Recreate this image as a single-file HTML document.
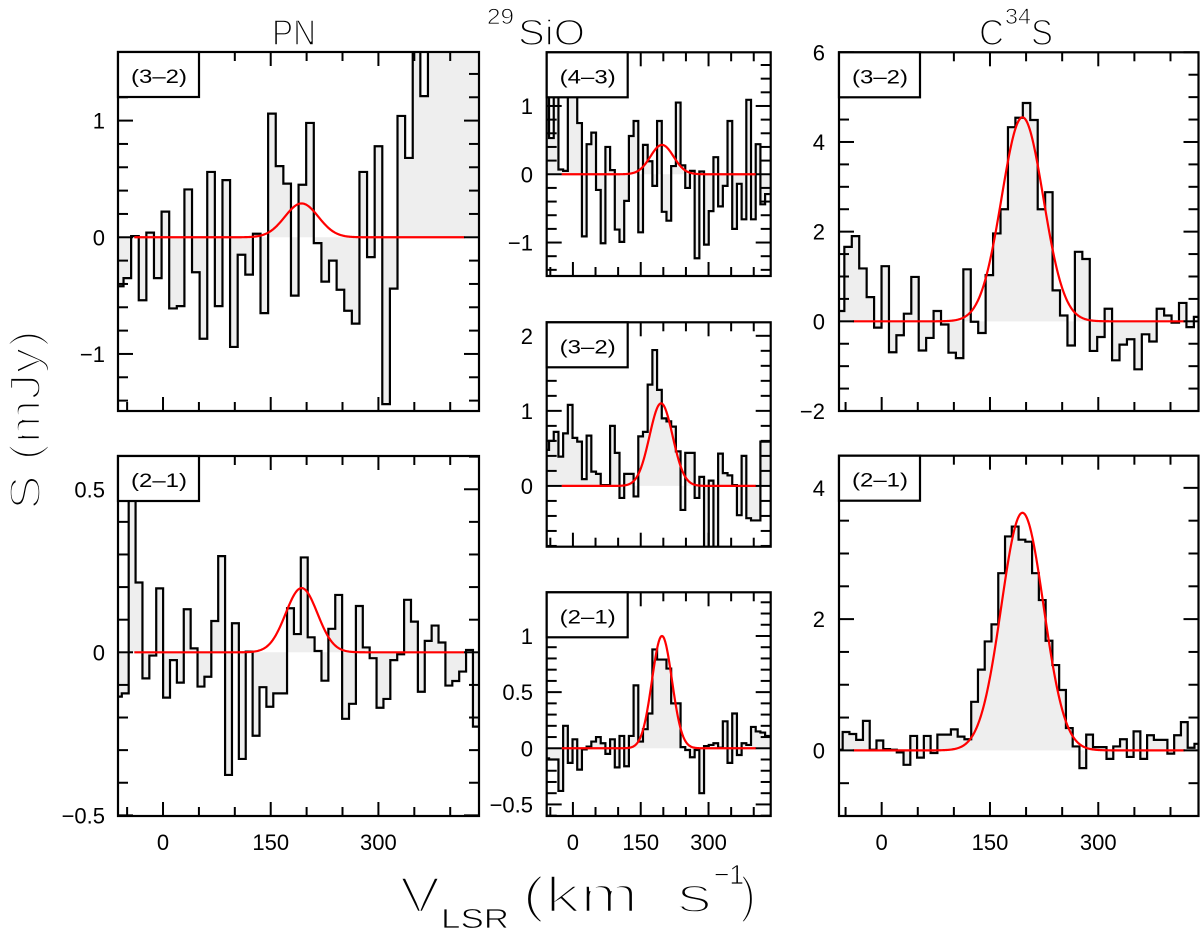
<!DOCTYPE html>
<html><head><meta charset="utf-8"><style>
html,body{margin:0;padding:0;background:#fff;}
svg{display:block;font-family:"Liberation Sans",sans-serif;}
.thin{stroke:#fff;stroke-width:1.6px;}
.thin text[font-size="28"],.thin text[font-size="22"]{stroke-width:0.8px;}
</style></head><body>
<svg id="fig" width="1200" height="939" viewBox="0 0 1200 939" xmlns="http://www.w3.org/2000/svg">
<rect x="0" y="0" width="1200" height="939" fill="#fff"/>
<g class="thin">
<text x="272" y="45" font-size="36" textLength="44" lengthAdjust="spacingAndGlyphs">PN</text>
<text x="487" y="24" font-size="22" textLength="27" lengthAdjust="spacingAndGlyphs">29</text>
<text x="518" y="45" font-size="36" textLength="67" lengthAdjust="spacingAndGlyphs">SiO</text>
<text x="979" y="45" font-size="36" textLength="25" lengthAdjust="spacingAndGlyphs">C</text>
<text x="1005" y="24" font-size="22" textLength="26" lengthAdjust="spacingAndGlyphs">34</text>
<text x="1031" y="45" font-size="36" textLength="22" lengthAdjust="spacingAndGlyphs">S</text>
<text transform="translate(40,510) rotate(-90)" font-size="44" textLength="180" lengthAdjust="spacingAndGlyphs" style="stroke-width:2.5px">S (mJy)</text>
<g font-size="50" style="stroke-width:2.5px">
<text x="400" y="912" textLength="40" lengthAdjust="spacingAndGlyphs">V</text>
<text x="441" y="928" font-size="28" textLength="68" lengthAdjust="spacingAndGlyphs">LSR</text>
<text x="522" y="912" textLength="190" lengthAdjust="spacingAndGlyphs" xml:space="preserve">(km  s</text>
<text x="714" y="884" font-size="28" textLength="30" lengthAdjust="spacingAndGlyphs">−1</text>
<text x="740" y="912" textLength="16" lengthAdjust="spacingAndGlyphs">)</text>
</g>
</g>
</svg>
<script>
// ---- data: flux density per channel (mJy) ----
const pn32Values=[-0.42,-0.35,0.01,-0.54,0.04,-0.35,0.22,-0.61,-0.59,0.41,-0.30,-0.87,0.56,-0.59,0.49,-0.94,-0.15,-0.32,0.03,-0.65,1.06,0.61,0.46,-0.50,0.45,0.98,-0.05,-0.38,-0.20,-0.45,-0.63,-0.74,0.56,-0.17,0.78,-1.43,-0.44,1.04,0.68,1.9,1.21,1.9,2.0,1.8,2.1,1.9,2.0,1.8];
const pn32Start=-65.6; const pn32Step=10.6;
const pn21Values=[-0.136,-0.126,0.65,0.214,-0.080,-0.010,0.196,-0.139,-0.024,-0.093,0.132,0.012,-0.105,-0.075,0.096,0.295,-0.376,0.089,-0.327,0.002,-0.256,-0.107,-0.167,-0.126,-0.126,0.135,0.056,0.291,0.046,0.004,-0.087,0.072,0.176,-0.204,-0.158,0.142,0.015,-0.018,-0.170,-0.143,-0.024,-0.006,0.161,0.094,-0.121,0.035,0.082,0.030,-0.102,-0.088,-0.059,0.007,-0.228];
const pn21Start=-67; const pn21Step=9.59;
const sio43Values=[1.2,0.53,1.2,0.07,0.05,1.15,1.15,0.75,-0.91,0.44,0.61,-0.23,-1.01,0.40,0.06,-0.81,-0.99,-0.39,0.56,0.78,-0.85,0.43,0.19,-0.17,0.78,-0.55,-0.68,0.12,1.05,0.13,-0.2,0.05,-1.23,0.04,-1.03,-0.54,0.25,-0.47,-0.17,0.78,-0.8,-0.14,-0.66,1.09,-0.66,0.44,-0.44,-0.29];
const sio43Start=-63.2; const sio43Step=10.39;
const sio32Values=[0.48,0.60,0.72,0.39,0.70,1.08,0.64,0.59,0.09,0.67,0.19,0.16,0.01,0.01,0.80,0.44,-0.16,0.16,0.16,-0.14,0.66,0.72,1.35,1.81,1.28,0.90,0.86,0.79,0.46,-0.32,0.44,0.44,-0.16,0.12,-0.85,0.07,-0.85,0.43,0.17,0.14,0.01,-0.39,0.40,-0.43,-0.46,-0.46,0.59,0.59];
const sio32Start=-63.2; const sio32Step=10.39;
const sio21Values=[-0.09,-0.1,-0.1,-0.38,0.20,-0.13,0.08,-0.19,-0.01,0.015,0.06,0.10,0.045,-0.05,0.08,-0.17,0.11,-0.16,0.11,0.56,0.06,0.17,0.31,0.88,0.79,0.79,0.71,0.40,0.40,0.01,-0.015,-0.08,-0.015,-0.40,0.02,0.03,0.045,0.005,0.24,-0.13,0.31,-0.06,0.045,0.03,0.19,0.15,0.14,0.11];
const sio21Start=-63.2; const sio21Step=10.39;
const c32Values=[0.23,1.66,1.90,1.18,0.54,-0.14,1.23,-0.69,-0.31,0.17,0.99,-0.65,-0.37,0.23,-0.07,-0.70,-0.82,1.16,-0.01,-0.26,1.03,1.96,2.5,4.33,4.54,4.87,4.49,2.5,2.88,0.69,0.13,-0.54,1.55,1.39,-0.66,-0.35,0.28,-0.87,-0.52,-0.40,-1.07,-0.29,-0.45,0.28,0.13,-0.03,0.41,-0.13,0.1];
const c32Start=-62; const c32Step=10.3;
const c21Values=[0.01,0.28,0.25,0.16,0.45,0.01,0.15,0.02,0.01,-0.03,-0.22,0.22,-0.11,0.22,-0.04,0.24,0.24,0.32,0.21,0.17,0.74,1.23,1.66,1.92,2.70,3.26,3.41,3.21,3.18,2.70,2.29,1.67,1.30,0.92,0.34,0.06,-0.27,0.24,0.05,0.05,-0.13,0.06,0.17,-0.10,0.29,-0.13,0.23,0.16,0.16,-0.05,0.23,0.43,0.04,0.10];
const c21Start=-63.4; const c21Step=9.37;
// Gaussian fits (order: pn32, pn21, sio43, sio32, sio21, c32, c21)
const fitAmplitudes=[0.29,0.197,0.43,1.10,1.0,4.55,3.62];
const fitCenters=[193,193,197,195,197,195,195];
const fitFwhm=[55,52,60,60,52,68,69];
const transitions=["(3–2)","(2–1)","(4–3)","(3–2)","(2–1)","(3–2)","(2–1)"];
const yMajorTicks=[[-1,0,1],[-0.5,0,0.5],[-1,0,1],[0,1,2],[-0.5,0,0.5,1],[-2,0,2,4,6],[0,2,4]];
const xTickLabels=[0,150,300];

const values=[pn32Values,pn21Values,sio43Values,sio32Values,sio21Values,c32Values,c21Values];
const starts=[pn32Start,pn21Start,sio43Start,sio32Start,sio21Start,c32Start,c21Start];
const steps=[pn32Step,pn21Step,sio43Step,sio32Step,sio21Step,c32Step,c21Step];
const panels=[
 {id:'pn-32',x0:118,x1:479,y0:52,y1:411,xmin:-62.7,xmax:440.1,ymin:-1.489,ymax:1.588,minor:0.2,fit:[-40,420],xl:false,lab:105},
 {id:'pn-21',x0:118,x1:479,y0:456,y1:816,xmin:-62.7,xmax:440.1,ymin:-0.502,ymax:0.602,minor:0.1,fit:[-40,420],xl:true,lab:105},
 {id:'sio-43',x0:546.7,x1:770.7,y0:52.3,y1:276,xmin:-58,xmax:437.5,ymin:-1.49,ymax:1.786,minor:0.2,fit:[-25,405],xl:false,lab:533},
 {id:'sio-32',x0:546.7,x1:770.7,y0:322.3,y1:546.7,xmin:-58,xmax:437.5,ymin:-0.81,ymax:2.18,minor:0.2,fit:[-25,405],xl:false,lab:533},
 {id:'sio-21',x0:546.7,x1:770.7,y0:592.3,y1:816,xmin:-58,xmax:437.5,ymin:-0.603,ymax:1.389,minor:0.1,fit:[-25,405],xl:true,lab:533},
 {id:'c34s-32',x0:839,x1:1198.5,y0:52.3,y1:411,xmin:-59.1,xmax:438.8,ymin:-2,ymax:6,minor:0.5,fit:[-40,420],xl:false,lab:825},
 {id:'c34s-21',x0:839,x1:1198.5,y0:455.7,y1:816,xmin:-59.1,xmax:438.8,ymin:-1,ymax:4.49,minor:0.5,fit:[-40,420],xl:true,lab:825}
];
const NS='http://www.w3.org/2000/svg';
const svg=document.getElementById('fig');
function mk(tag,attrs,parent){const e=document.createElementNS(NS,tag);for(const k in attrs)e.setAttribute(k,attrs[k]);(parent||svg).appendChild(e);return e;}
function fmt(v){const s=String(Math.abs(v));return (v<0?'−':'')+s;}

panels.forEach((p,pi)=>{
  const X=v=>p.x0+(v-p.xmin)/(p.xmax-p.xmin)*(p.x1-p.x0);
  const Y=s=>p.y1-(s-p.ymin)/(p.ymax-p.ymin)*(p.y1-p.y0);
  const g=mk('g',{});
  
  
  const cp=mk('clipPath',{id:'clip'+pi},g);
  mk('rect',{x:p.x0,y:p.y0,width:p.x1-p.x0,height:p.y1-p.y0},cp);
  const inner=mk('g',{'clip-path':'url(#clip'+pi+')'},g);
  const vals=values[pi],v0=starts[pi],dv=steps[pi];
  const y0=Y(0);
  let step='',fill='M'+X(v0)+','+y0;
  vals.forEach((s,i)=>{
    const xl=X(v0+i*dv),xr=X(v0+(i+1)*dv),yy=Y(s);
    step+=(i===0?'M':'L')+xl+','+yy+'L'+xr+','+yy;
    fill+='L'+xl+','+yy+'L'+xr+','+yy;
  });
  fill+='L'+X(v0+vals.length*dv)+','+y0+'Z';
  const fp=mk('path',{d:fill,fill:'#eeeeee',stroke:'none'},inner);
  
  
  const sp=mk('path',{d:step,fill:'none',stroke:'#000','stroke-width':2.2,'stroke-linejoin':'miter'},inner);
  
  
  const A=fitAmplitudes[pi],C=fitCenters[pi],sg=fitFwhm[pi]/2.3548;
  let gd='';
  for(let v=p.fit[0];v<=p.fit[1];v+=1){gd+=(gd?'L':'M')+X(v).toFixed(2)+','+Y(A*Math.exp(-0.5*((v-C)/sg)**2)).toFixed(2);}
  const gp=mk('path',{d:gd,fill:'none',stroke:'#ff0000','stroke-width':2.2},inner);
  
  
  const tk=mk('g',{stroke:'#000','stroke-width':2},g);
  
  
  for(let v=-50;v<=p.xmax;v+=50){
    const x=X(v),L=(v===0||v===150||v===300)?14:9;
    mk('line',{x1:x,y1:p.y1,x2:x,y2:p.y1-L},tk);
    mk('line',{x1:x,y1:p.y0,x2:x,y2:p.y0+L},tk);
  }
  const m=p.minor;
  for(let k=Math.ceil(p.ymin/m-1e-6);k*m<=p.ymax+1e-6;k++){
    const s=k*m,yy=Y(s);
    const major=yMajorTicks[pi].some(t=>Math.abs(t-s)<1e-6);
    const L=major?15:10;
    mk('line',{x1:p.x0,y1:yy,x2:p.x0+L,y2:yy},tk);
    mk('line',{x1:p.x1,y1:yy,x2:p.x1-L,y2:yy},tk);
  }
  yMajorTicks[pi].forEach(t=>{
    const tl=mk('text',{x:p.lab,y:Y(t)+8,'font-size':22,'text-anchor':'end'},g);
    
    
    tl.textContent=fmt(t);
  });
  if(p.xl){
    xTickLabels.forEach(t=>{
      const tl=mk('text',{x:X(t),y:850,'font-size':22,'text-anchor':'middle'},g);
      
      
      tl.textContent=String(t);
    });
  }
  const fr=mk('rect',{x:p.x0,y:p.y0,width:p.x1-p.x0,height:p.y1-p.y0,fill:'none',stroke:'#000','stroke-width':2.2},g);
  
  
  const bx=mk('rect',{x:p.x0,y:p.y0,width:81,height:45,fill:'#fff',stroke:'#000','stroke-width':2.2},g);
  
  
  const lt=mk('text',{x:p.x0+13,y:p.y0+31,'font-size':19,textLength:56,lengthAdjust:'spacingAndGlyphs'},g);
  
  
  lt.textContent=transitions[pi];
});
</script>
</body></html>
